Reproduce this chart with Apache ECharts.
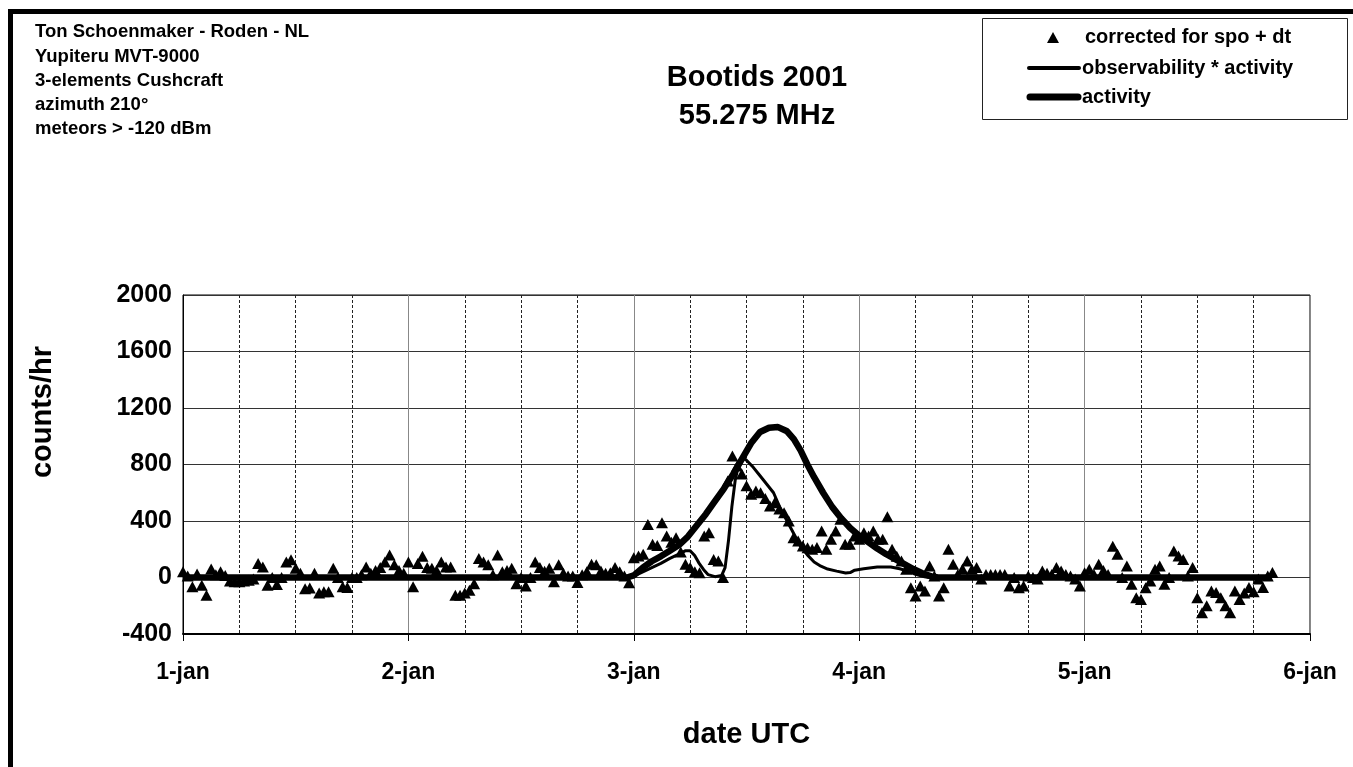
<!DOCTYPE html>
<html>
<head>
<meta charset="utf-8">
<script src="https://cdn.jsdelivr.net/npm/echarts@6/dist/echarts.min.js"></script>
<style>
html,body{margin:0;padding:0;background:#fff;}
#main{width:1353px;height:767px;}
</style>
</head>
<body>
<div id="main"></div>
<script>
// half-hourly counts, starting 1-jan 00:00 UTC
var stepHours = 0.5;
var counts = [
  40, 10, -65, 25, -55, -125, 60, 20, 40, 15,
  -25, -30, -30, -25, -20, -10, 100, 75, -55, 0,
  -50, 0, 110, 125, 65, 30, -80, -75, 30, -110,
  -100, -100, 65, 0, -65, -70, 0, 0, 20, 75,
  30, 50, 70, 110, 160, 90, 50, 30, 110, -65,
  100, 150, 70, 65, 50, 110, 75, 75, -125, -125,
  -110, -90, -45, 135, 110, 90, 20, 160, 40, 50,
  65, -45, 0, -60, 0, 110, 70, 45, 65, -30,
  90, 30, 10, 10, -35, 20, 40, 93, 90, 46,
  30, 34, 70, 40, 10, -37, 140, 152, 164, 376,
  235, 227, 388, 293, 250, 282, 180, 93, 70, 40,
  34, 293, 317, 128, 117, 0, 683, 860, 790, 733,
  650, 590, 612, 600, 560, 506, 530, 485, 459, 400,
  282, 258, 223, 210, 200, 212, 329, 200, 270, 330,
  412, 235, 235, 294, 270, 317, 294, 329, 270, 270,
  430, 200, 150, 117, 58, -72, -131, -60, -95, 81,
  11, -131, -72, 200, 93, 22, 60, 117, 58, 70,
  -10, 22, 22, 22, 22, 22, -60, 0, -72, -60,
  10, 0, -10, 46, 30, 22, 70, 46, 22, 10,
  -10, -60, 34, 58, 22, 93, 50, 22, 222, 164,
  0, 81, -48, -143, -155, -72, -25, 58, 81, -48,
  0, 188, 152, 128, 10, 70, -143, -250, -200, -95,
  -107, -143, -200, -250, -95, -155, -110, -70, -100, -10,
  -70, 10, 35
];

// activity curve (days since 1-jan 00:00)
var actDays = [0, 1.97, 2.00, 2.04, 2.08, 2.12, 2.16, 2.20, 2.24, 2.28, 2.32, 2.36, 2.40, 2.44, 2.48,
  2.52, 2.56, 2.60, 2.64, 2.68, 2.71, 2.74, 2.77, 2.80, 2.84, 2.88, 2.92, 2.96, 3.00, 3.04,
  3.08, 3.12, 3.16, 3.20, 3.24, 3.28, 3.32, 3.35, 4.83];
var actValues = [0, 0, 15, 70, 115, 150, 190, 230, 290, 370, 450, 540, 630, 730, 840,
  950, 1030, 1060, 1065, 1035, 980, 900, 800, 710, 600, 500, 420, 350, 295, 250,
  205, 165, 130, 95, 60, 30, 8, 0, 0];

// observability * activity
var obsDays = [0, 1.97, 2.00, 2.04, 2.08, 2.12, 2.16, 2.20, 2.23, 2.25, 2.27, 2.29, 2.31, 2.33, 2.36,
  2.39, 2.405, 2.42, 2.435, 2.45, 2.47, 2.48, 2.50, 2.53, 2.56, 2.59, 2.62, 2.65, 2.68, 2.71,
  2.74, 2.77, 2.80, 2.83, 2.86, 2.90, 2.94, 2.96, 2.98, 3.02, 3.08, 3.14, 3.18, 3.21, 3.25,
  3.29, 3.31, 4.83];
var obsValues = [0, 0, 10, 40, 70, 100, 135, 165, 190, 190, 155, 100, 55, 20, 6,
  15, 70, 260, 500, 690, 830, 855, 830, 780, 720, 660, 600, 490, 400, 310,
  220, 160, 110, 80, 60, 45, 32, 35, 52, 62, 75, 75, 62, 48, 22,
  5, 0, 0];

var yTicks = [-400, 0, 400, 800, 1200, 1600, 2000];
var dayLabels = ['1-jan', '2-jan', '3-jan', '4-jan', '5-jan', '6-jan'];
var seriesNames = ['corrected for spo + dt', 'observability * activity', 'activity'];

var infoLines = ['Ton Schoenmaker - Roden - NL', 'Yupiteru MVT-9000', '3-elements Cushcraft',
  'azimuth 210\u00b0', 'meteors > -120 dBm'];

function pairs(xs, ys){
    var out = [];
    for(var i=0;i<xs.length;i++){
        out.push([xs[i], ys[i]]);
    }
    return out;
}

var scatterData = [];
for(var i=0;i<counts.length;i++){
    scatterData.push([i*stepHours/24, counts[i]]);
}

var font = 'Liberation Sans, Arial, sans-serif';
var legendFont = 'bold 20px ' + font;

var myChart = echarts.init(document.getElementById('main'));
var option = {
    backgroundColor: '#fff',
    animation: false,
    title: {
        text: 'Bootids 2001\n55.275 MHz',
        left: 752,
        top: 54,
        textAlign: 'center',
        textStyle: {fontFamily: font, fontSize: 29, fontWeight: 'bold', color: '#000', lineHeight: 38}
    },
    graphic: [
        {type: 'rect', shape: {x: 8, y: 9, width: 5, height: 800}, style: {fill: '#000'}},
        {type: 'rect', shape: {x: 8, y: 9, width: 1400, height: 5}, style: {fill: '#000'}},
        {
            type: 'text', left: 35, top: 20,
            style: {text: infoLines.join('\n'), font: 'bold 18.5px ' + font, lineHeight: 24.3, fill: '#000'}
        },
        {
            type: 'text', x: 43, y: 412, rotation: Math.PI/2,
            style: {text: 'counts/hr', font: 'bold 29px ' + font, fill: '#000', align: 'center', verticalAlign: 'middle'}
        },
        // legend box
        {type: 'rect', shape: {x: 982.5, y: 18.5, width: 365, height: 101}, style: {fill: '#fff', stroke: '#222', lineWidth: 1}},
        {type: 'polygon', shape: {points: [[1053, 32], [1059, 43], [1047, 43]]}, style: {fill: '#000'}},
        {type: 'line', shape: {x1: 1029, y1: 68, x2: 1079, y2: 68}, style: {stroke: '#000', lineWidth: 4, lineCap: 'round'}},
        {type: 'line', shape: {x1: 1030, y1: 97, x2: 1078, y2: 97}, style: {stroke: '#000', lineWidth: 7, lineCap: 'round'}},
        {type: 'text', x: 1085, y: 37, style: {text: seriesNames[0], font: legendFont, fill: '#000', verticalAlign: 'middle'}},
        {type: 'text', x: 1082, y: 68, style: {text: seriesNames[1], font: legendFont, fill: '#000', verticalAlign: 'middle'}},
        {type: 'text', x: 1082, y: 97, style: {text: seriesNames[2], font: legendFont, fill: '#000', verticalAlign: 'middle'}}
    ],
    grid: {
        left: 183, right: 43, top: 295, bottom: 133,
        show: true, borderColor: '#000', borderWidth: 1
    },
    xAxis: {
        type: 'value',
        min: 0, max: 5, interval: 1,
        name: 'date UTC',
        nameLocation: 'middle',
        nameGap: 86,
        nameTextStyle: {fontFamily: font, fontSize: 29, fontWeight: 'bold', color: '#000'},
        axisLine: {show: true, onZero: false, lineStyle: {color: '#000', width: 2}},
        axisTick: {show: true, length: 7, lineStyle: {color: '#000', width: 1}},
        axisLabel: {
            margin: 27, fontFamily: font, fontSize: 23, fontWeight: 'bold', color: '#000',
            formatter: function(v){ return dayLabels[Math.round(v)]; }
        },
        splitLine: {show: true, lineStyle: {color: '#888', width: 1}},
        minorTick: {show: false, splitNumber: 4},
        minorSplitLine: {show: true, lineStyle: {color: '#222', width: 1, type: [3, 2]}}
    },
    yAxis: {
        type: 'value',
        min: yTicks[0], max: yTicks[yTicks.length-1], interval: 400,
        axisLine: {show: true, lineStyle: {color: '#000', width: 1}},
        axisTick: {show: false},
        axisLabel: {
            margin: 11, fontFamily: font, fontSize: 25, fontWeight: 'bold', color: '#000',
            formatter: function(v){ return String(v); }
        },
        splitLine: {show: true, lineStyle: {color: '#333', width: 1}}
    },
    series: [
        {
            name: seriesNames[0],
            type: 'scatter',
            symbol: 'triangle',
            symbolSize: [12, 11],
            itemStyle: {color: '#000', opacity: 1},
            data: scatterData,
            z: 2
        },
        {
            name: seriesNames[1],
            type: 'line',
            showSymbol: false,
            symbol: 'none',
            lineStyle: {color: '#000', width: 3},
            data: pairs(obsDays, obsValues),
            z: 3
        },
        {
            name: seriesNames[2],
            type: 'line',
            showSymbol: false,
            symbol: 'none',
            lineStyle: {color: '#000', width: 6.5},
            data: pairs(actDays, actValues),
            z: 4
        }
    ]
};
myChart.setOption(option);
</script>
</body>
</html>
